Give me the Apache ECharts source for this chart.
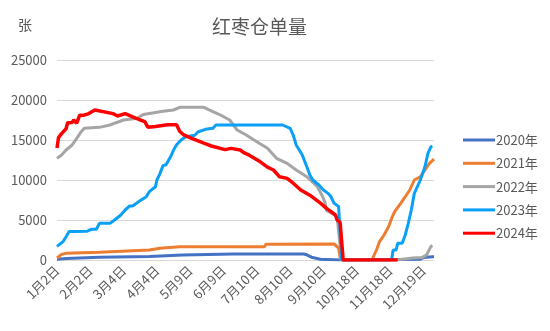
<!DOCTYPE html>
<html><head><meta charset="utf-8">
<script src="https://cdn.jsdelivr.net/npm/echarts@6/dist/echarts.min.js"></script>
<style>html,body{margin:0;padding:0;background:#fff}#c{width:550px;height:331px}</style>
</head><body><div id="c"></div>
<script>
// x positions are trading-day indices (0 = 1月2日), one tick label every 22 days
const tickLabels = ['1月2日','2月2日','3月4日','4月4日','5月9日','6月9日','7月10日','8月10日','9月10日','10月18日','11月18日','12月19日'];
const tickStep = 22;
const dayCount = 250;
const seriesNames = ['2020年','2021年','2022年','2023年','2024年'];

const s2020 = [[0,100],[6,200],[28,330],[61,450],[83,625],[116,750],[163,750],[165,650],[168,350],[174,100],[187,0],[225,50],[240,100],[242,300],[248,400],[249,400]];
const s2021 = [[0,250],[3,700],[6,830],[28,960],[61,1250],[68,1460],[81,1660],[137,1660],[138,1960],[183,2000],[186,1500],[187,300],[188,0],[208,0],[209,200],[211,1250],[213,2290],[216,3125],[219,4160],[221,5200],[223,6040],[227,7090],[230,7910],[233,8750],[236,10000],[240,10410],[243,11250],[246,12080],[249,12600]];
const s2022 = [[0,12700],[3,13125],[6,13750],[10,14375],[13,15200],[16,16040],[18,16460],[28,16580],[35,16875],[39,17160],[44,17500],[53,17710],[57,18200],[64,18400],[70,18600],[77,18750],[81,19080],[97,19080],[103,18540],[108,18125],[114,17500],[119,16250],[125,15625],[132,14790],[139,13960],[145,12710],[152,12080],[158,11250],[165,10410],[172,9160],[175,8100],[177,7200],[178,6200],[182,5800],[185,5400],[186,5200],[188,0],[224,0],[225,150],[235,250],[241,300],[244,600],[247,1700],[248,1800]];
const s2023 = [[0,1700],[4,2300],[6,2900],[8,3550],[11,3550],[20,3600],[23,3850],[26,3850],[28,4580],[35,4580],[38,5000],[42,5600],[45,6250],[48,6750],[50,6750],[54,7300],[59,7900],[61,8550],[65,9150],[66,10000],[68,10800],[70,11800],[72,11900],[75,12900],[77,13750],[79,14400],[82,15000],[85,15400],[91,15600],[93,16000],[98,16330],[103,16460],[105,16875],[149,16875],[154,16460],[156,15625],[158,14375],[162,13125],[165,11660],[167,10625],[169,10000],[173,9375],[176,8750],[179,8330],[181,7900],[183,7090],[186,6700],[187,6600],[188,0],[221,0],[222,1250],[224,1250],[225,2080],[228,2080],[230,3125],[232,4580],[234,6250],[236,8330],[240,10000],[243,11660],[245,13330],[247,14160],[248,14200]];
const s2024 = [[0,14000],[1,15300],[3,15800],[6,16400],[7,17150],[10,17200],[11,17500],[13,17100],[15,18100],[18,18100],[21,18300],[25,18750],[37,18300],[40,18000],[45,18300],[50,17900],[55,17500],[58,17300],[60,16600],[65,16700],[73,16900],[79,16900],[81,16100],[84,15600],[89,15200],[97,14600],[102,14250],[111,13800],[115,13950],[121,13750],[124,13350],[127,13100],[134,12300],[139,11600],[143,11250],[147,10400],[152,10200],[156,9600],[161,8750],[167,8100],[174,7100],[178,6450],[181,6050],[184,5600],[185,5000],[187,4700],[189,0],[225,0]];

const colors = ['#4472C4','#ED7D31','#A5A5A5','#0AA0F5','#FF0000'];
const allData = [s2020,s2021,s2022,s2023,s2024];
const font = '"Noto Sans CJK SC", "Noto Sans", sans-serif';

const chart = echarts.init(document.getElementById('c'), null, {renderer:'canvas'});
chart.setOption({
  animation:false,
  textStyle:{fontFamily:font},
  title:{text:'红枣仓单量', left:207, top:12, textStyle:{fontSize:19, fontWeight:'normal', color:'#595959', fontFamily:font}},
  graphic:[{type:'text', left:18, top:18, style:{text:'张', fontSize:14, fill:'#595959', fontFamily:font}}],
  legend:{orient:'vertical', left:458, top:128, icon:'rect', itemWidth:32, itemHeight:3, itemGap:9.3,
    textStyle:{fontSize:13, color:'#595959', padding:[0,0,0,-4], lineHeight:14}, data:seriesNames},
  grid:{left:57, right:116, top:60, bottom:71, containLabel:false},
  xAxis:{type:'value', min:0, max:dayCount-1, interval:tickStep,
    axisLine:{show:true, lineStyle:{color:'#D9D9D9', width:1}},
    axisTick:{show:false}, splitLine:{show:false},
    axisLabel:{rotate:45, fontSize:13, color:'#595959', margin:8, showMaxLabel:false,
      formatter:function(v){ const k=v/tickStep; return (Number.isInteger(k) && tickLabels[k]) ? tickLabels[k] : ''; }}},
  yAxis:{type:'value', min:0, max:25000, interval:5000,
    axisLine:{show:false}, axisTick:{show:false},
    splitLine:{lineStyle:{color:'#D9D9D9', width:1}},
    axisLabel:{fontSize:13, color:'#595959', margin:10, formatter:function(v){return String(v);}}},
  series: seriesNames.map((n,i)=>({
    name:n, type:'line', data:allData[i], symbol:'none', smooth:false,
    lineStyle:{width: i===4?3.5:3, color:colors[i]}, itemStyle:{color:colors[i]}
  }))
});
</script></body></html>
